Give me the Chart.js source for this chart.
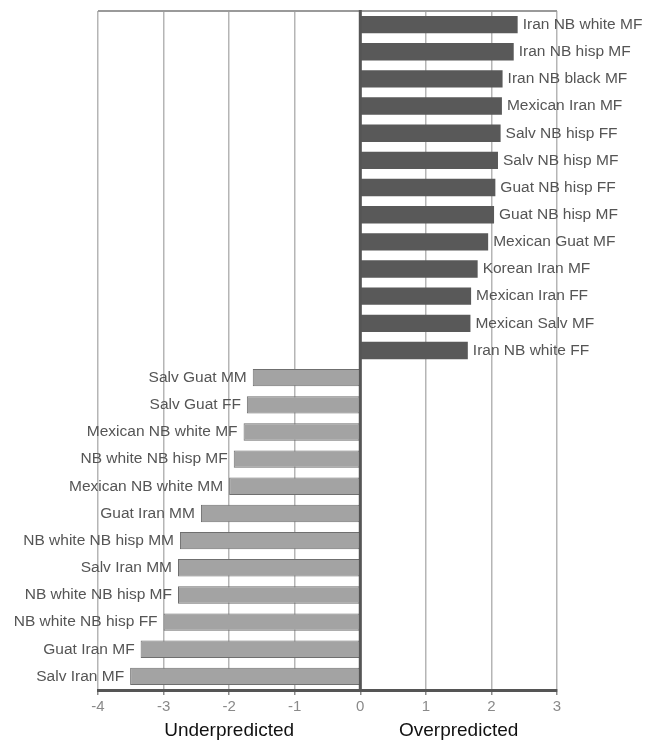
<!DOCTYPE html>
<html>
<head>
<meta charset="utf-8">
<script src="https://cdn.jsdelivr.net/npm/chart.js@4"></script>
<style>
  html, body { margin: 0; padding: 0; background: #fff; }
  #wrap { width: 655px; height: 745px; }
</style>
</head>
<body>
<div id="wrap"><canvas id="c" width="655" height="745"></canvas></div>
<script>
// Pairings, top to bottom
const categories = [
  "Iran NB white MF", "Iran NB hisp MF", "Iran NB black MF", "Mexican Iran MF",
  "Salv NB hisp FF", "Salv NB hisp MF", "Guat NB hisp FF", "Guat NB hisp MF",
  "Mexican Guat MF", "Korean Iran MF", "Mexican Iran FF", "Mexican Salv MF",
  "Iran NB white FF",
  "Salv Guat MM", "Salv Guat FF", "Mexican NB white MF", "NB white NB hisp MF",
  "Mexican NB white MM", "Guat Iran MM", "NB white NB hisp MM", "Salv Iran MM",
  "NB white NB hisp MF", "NB white NB hisp FF", "Guat Iran MF", "Salv Iran MF"
];

// Prediction error for each pairing
const values = [
  2.40, 2.34, 2.17, 2.16,
  2.14, 2.10, 2.06, 2.04,
  1.95, 1.79, 1.69, 1.68,
  1.64,
  -1.64, -1.73, -1.78, -1.93,
  -2.00, -2.43, -2.75, -2.78,
  -2.78, -3.00, -3.35, -3.51
];

const xTicks = [-4, -3, -2, -1, 0, 1, 2, 3];
const sideTitles = [
  { text: "Underpredicted", at: -2 },
  { text: "Overpredicted", at: 1.5 }
];

const FONT = "'Liberation Sans', Arial, Helvetica, sans-serif";

// Bar labels beside each bar end, frame line on top, zero line, and side titles
const annotate = {
  id: "annotate",
  afterDatasetsDraw(chart) {
    const { ctx, chartArea, scales } = chart;
    const xs = scales.x;
    const meta = chart.getDatasetMeta(0);
    ctx.save();

    // top frame line
    ctx.strokeStyle = "#9a9a9a";
    ctx.lineWidth = 2;
    ctx.beginPath();
    ctx.moveTo(chartArea.left, chartArea.top);
    ctx.lineTo(chartArea.right, chartArea.top);
    ctx.stroke();

    // zero line
    const x0 = xs.getPixelForValue(0);
    ctx.strokeStyle = "#555";
    ctx.lineWidth = 3;
    ctx.beginPath();
    ctx.moveTo(x0, chartArea.top - 1);
    ctx.lineTo(x0, chartArea.bottom);
    ctx.stroke();

    // bar labels
    ctx.font = "15.5px " + FONT;
    ctx.fillStyle = "#555";
    ctx.textBaseline = "middle";
    meta.data.forEach((bar, i) => {
      const v = values[i];
      const xe = xs.getPixelForValue(v);
      if (v >= 0) {
        ctx.textAlign = "left";
        ctx.fillText(categories[i], xe + 5, bar.y);
      } else {
        ctx.textAlign = "right";
        ctx.fillText(categories[i], xe - 6, bar.y);
      }
    });

    // side titles under the axis
    ctx.font = "19px " + FONT;
    ctx.fillStyle = "#111";
    ctx.textAlign = "center";
    ctx.textBaseline = "middle";
    sideTitles.forEach(t => {
      ctx.fillText(t.text, xs.getPixelForValue(t.at), 731);
    });
    ctx.restore();
  }
};

new Chart(document.getElementById("c"), {
  type: "bar",
  data: {
    labels: categories,
    datasets: [{
      data: values,
      backgroundColor: values.map(v => v >= 0 ? "#595959" : "#a3a3a3"),
      borderColor: values.map(v => v >= 0 ? "#595959" : "#6f6f6f"),
      borderWidth: values.map(v => v >= 0 ? 0 : 1),
      borderSkipped: false,
      barPercentage: 0.64,
      categoryPercentage: 1.0
    }]
  },
  options: {
    indexAxis: "y",
    responsive: false,
    animation: false,
    devicePixelRatio: 1,
    layout: { padding: { top: 11, left: 98, right: 98, bottom: 0 } },
    plugins: { legend: { display: false }, tooltip: { enabled: false } },
    scales: {
      y: { type: "category", display: false, offset: true },
      x: {
        type: "linear",
        min: -4,
        max: 3,
        afterBuildTicks: (scale) => { scale.ticks = xTicks.map(v => ({ value: v })); },
        afterFit: (scale) => { scale.height = 55; },
        ticks: {
          font: { size: 15, family: FONT },
          color: "#8a8a8a",
          padding: 3
        },
        grid: {
          color: "#b5b5b5",
          lineWidth: 1.5,
          tickLength: 5,
          tickColor: "#8a8a8a",
          drawTicks: true
        },
        border: { display: true, color: "#555", width: 3 }
      }
    }
  },
  plugins: [annotate]
});
</script>
</body>
</html>
